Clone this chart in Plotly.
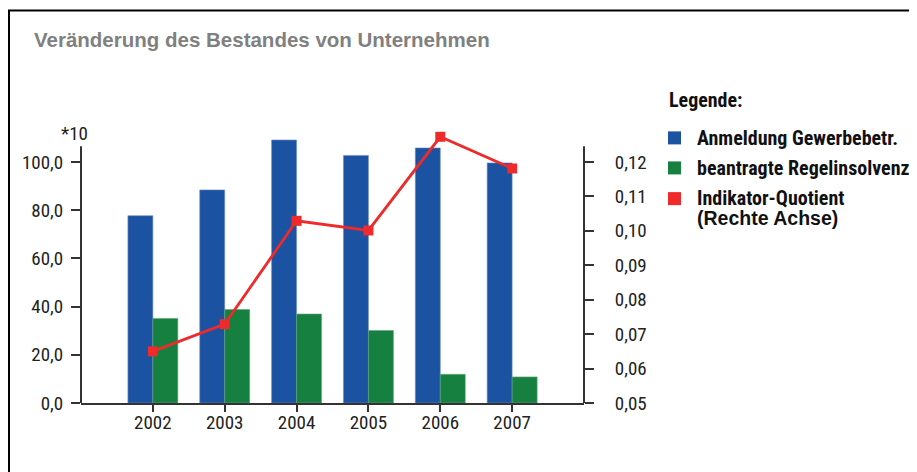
import plotly.graph_objects as go

# ---- data ----
years = ["2002", "2003", "2004", "2005", "2006", "2007"]
anmeldung = [77.7, 88.4, 109.1, 102.7, 105.8, 99.6]
insolvenz = [35.1, 38.8, 36.9, 30.1, 11.9, 10.8]
quotient = [0.065, 0.0729, 0.1029, 0.1001, 0.1273, 0.1181]
left_ticks = [0, 20, 40, 60, 80, 100]
right_ticks = [0.05, 0.06, 0.07, 0.08, 0.09, 0.10, 0.11, 0.12]
series_names = ["Anmeldung Gewerbebetr.", "beantragte Regelinsolvenzen", "Indikator-Quotient"]

BLUE = "#1b52a1"
GREEN = "#168040"
RED = "#ee2a2a"
AX = "#333333"
NARROW = "Roboto Condensed, DejaVu Sans Condensed, sans-serif"
SANS = "Liberation Sans, Arial, sans-serif"

OFF = 8  # page body margin
W, H = 917 - OFF, 472 - OFF
L, R, T, B = 81, 584, 133.4, 403.3
Y_MAX = 112
R_MIN, R_SCALE = 0.05, 0.0007


def px(x):
    return (x - L) / (R - L)


def py(y):
    return (B - y) / (B - T)


fig = go.Figure()
fig.add_bar(x=years, y=anmeldung, name=series_names[0], marker=dict(color=BLUE, line=dict(color="#6f8fc8", width=0.6)))
fig.add_bar(x=years, y=insolvenz, name=series_names[1], marker=dict(color=GREEN, line=dict(color="#5fa37a", width=0.6)))
fig.add_scatter(x=years, y=quotient, name=series_names[2], yaxis="y2", mode="lines+markers",
                line=dict(color=RED, width=2.8),
                marker=dict(symbol="square", size=10, color=RED), cliponaxis=False)

tickfont = dict(family=NARROW, size=19, color="#222222")

fig.update_layout(
    width=W, height=H,
    margin=dict(l=L - OFF, r=917 - R, t=T - OFF, b=472 - B, pad=0),
    paper_bgcolor="white", plot_bgcolor="white",
    showlegend=False,
    separators=",.",
    barmode="group", bargap=0.305, bargroupgap=0,
    xaxis=dict(type="category", range=[-1, 6], showline=True, linecolor=AX, linewidth=2,
               ticks="outside", ticklen=7, tickwidth=1.5, tickcolor=AX,
               showgrid=False, zeroline=False, tickfont=tickfont, ticklabelstandoff=-6),
    yaxis=dict(range=[0, Y_MAX], tickvals=left_ticks, tickformat=".1f", ticks="outside",
               ticklen=9, tickwidth=2, tickcolor=AX, showline=False, showgrid=False,
               zeroline=False, tickfont=tickfont, ticklabelstandoff=4),
    yaxis2=dict(range=[R_MIN, R_MIN + Y_MAX * R_SCALE], tickvals=right_ticks, tickformat=".2f",
                overlaying="y", side="right", ticks="outside", ticklen=9, tickwidth=2,
                tickcolor=AX, showline=False, showgrid=False, zeroline=False,
                tickfont=tickfont, ticklabelstandoff=17),
)

shapes = []
for xp in (0, 1):
    shapes.append(dict(type="line", xref="paper", yref="y", x0=xp, x1=xp, y0=0, y1=106.5,
                       line=dict(color=AX, width=2)))
shapes.append(dict(type="line", xref="paper", yref="paper", x0=px(9), x1=px(9),
                   y0=py(10.5), y1=py(480), line=dict(color="black", width=2)))
shapes.append(dict(type="line", xref="paper", yref="paper", x0=px(8), x1=px(930),
                   y0=py(11), y1=py(11), line=dict(color="black", width=2)))
for yc, col in zip([138.3, 168.3, 199.0], [BLUE, GREEN, RED]):
    shapes.append(dict(type="rect", xref="paper", yref="paper", x0=px(668), x1=px(681),
                       y0=py(yc + 6.5), y1=py(yc - 6.5), fillcolor=col, line=dict(width=0)))
fig.update_layout(shapes=shapes)

legfont = dict(family=NARROW, size=20, color="#111111", weight="bold")
ann = []
ann.append(dict(text="Veränderung des Bestandes von Unternehmen", x=px(32), y=py(40),
                font=dict(family=SANS, size=20.5, color="#808080", weight="bold")))
ann.append(dict(text="*10", x=px(59), y=py(134), font=dict(family=NARROW, size=19, color="#222222")))
ann.append(dict(text="Legende:", x=px(667), y=py(100), font=legfont))
for yc, name in zip([138.5, 168.5, 198.0], series_names):
    ann.append(dict(text=name, x=px(695), y=py(yc), font=legfont))
ann.append(dict(text="(Rechte Achse)", x=px(695), y=py(218),
                font=dict(family=SANS, size=19.5, color="#111111", weight="bold")))
for a in ann:
    a.update(xref="paper", yref="paper", xanchor="left", yanchor="middle", showarrow=False)
fig.update_layout(annotations=ann)

fig.write_html("out.html")
